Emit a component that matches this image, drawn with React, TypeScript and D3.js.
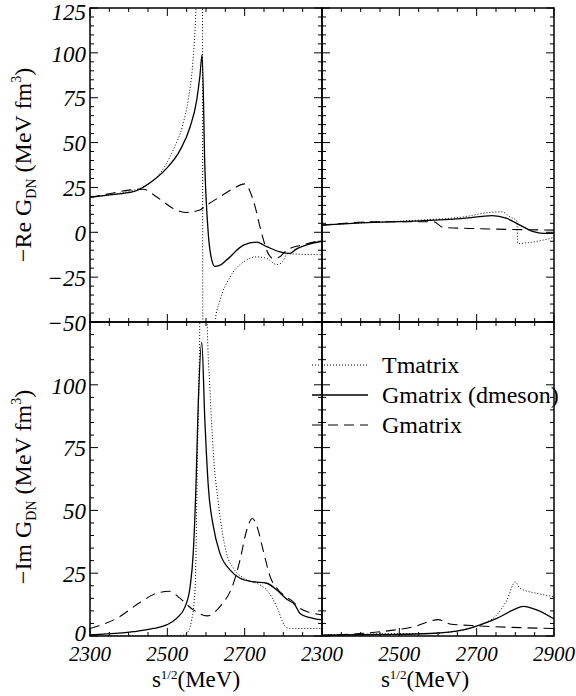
import React from 'react';
import * as d3 from 'd3';

type Pt = [number, number];

// x: s^1/2 in MeV, y: value in MeV fm^3
const xDomain: [number, number] = [2300, 2900];
const reDomain: [number, number] = [-50, 125];
const imDomain: [number, number] = [0, 125];

const reTicks = [125, 100, 75, 50, 25, 0, -25, -50];
const imTicks = [0, 25, 50, 75, 100];
const xTicksLeft = [2300, 2500, 2700];
const xTicksRight = [2300, 2500, 2700, 2900];

// top left: -Re
const reLeftT: Pt[] = [[2300, 19.5], [2350, 20.9], [2400, 22.8], [2440, 25.5], [2481, 32.8], [2515, 45.8], [2540, 60], [2554, 73.7], [2566, 95], [2574, 124], [2581, 175], [2589, 400], [2594, -400], [2606, -110], [2615, -68], [2623, -50], [2636, -38], [2662, -25], [2697, -16.5], [2731, -13.7], [2757, -14.6], [2783, -18], [2798, -16.5], [2810, -12], [2850, -12.3], [2900, -12.5]];
const reLeftGD: Pt[] = [[2300, 19.5], [2350, 20.8], [2412, 22.6], [2464, 29], [2498, 35.6], [2533, 45.8], [2559, 58.8], [2576, 73.7], [2584, 86.7], [2590, 99], [2597, 36.5], [2606, -1], [2615, -15.5], [2623, -19], [2635, -18.5], [2653, -15.5], [2697, -7.2], [2731, -5.5], [2757, -8], [2791, -10.9], [2817, -11.8], [2832, -9.5], [2860, -7], [2900, -5]];
const reLeftG: Pt[] = [[2300, 19.5], [2350, 21.5], [2400, 23.5], [2438, 24], [2472, 19.8], [2515, 13.3], [2546, 11], [2584, 12.4], [2601, 15], [2636, 19.8], [2671, 24.4], [2700, 27], [2722, 18], [2744, -0.6], [2757, -10], [2774, -14.6], [2791, -13.7], [2808, -10], [2850, -7], [2900, -4.4]];

// top right: -Re
const reRightT: Pt[] = [[2300, 4], [2400, 5.2], [2554, 6.8], [2666, 8.6], [2735, 11.1], [2765, 11.4], [2786, 8.6], [2804, 6.4], [2806, -6.2], [2900, -2.9]];
const reRightGD: Pt[] = [[2300, 4], [2400, 5.2], [2554, 6.4], [2666, 7.7], [2740, 9.3], [2778, 7.7], [2812, 4], [2847, 0.3], [2872, -0.6], [2900, -0.6]];
const reRightG: Pt[] = [[2300, 4], [2451, 5.9], [2588, 5.9], [2614, 2.7], [2709, 2], [2900, 1.2]];

// bottom left: -Im
const imLeftT: Pt[] = [[2300, 0], [2500, 0], [2540, 0.3], [2550, 1], [2563, 6.4], [2572, 19.7], [2578, 72.8], [2584, 126], [2590, 250], [2595, 280], [2600, 200], [2603, 126], [2610, 99], [2619, 72.8], [2632, 52.9], [2653, 33], [2671, 27], [2697, 23], [2731, 21], [2757, 18.3], [2783, 11.7], [2804, 4], [2817, 3], [2900, 3]];
const imLeftGD: Pt[] = [[2300, 0.4], [2412, 1.7], [2464, 3], [2498, 4.4], [2524, 7], [2546, 11.7], [2559, 19.7], [2567, 33], [2574, 59.5], [2580, 92.7], [2589, 117], [2597, 86], [2606, 59.5], [2619, 43.6], [2636, 33], [2662, 26.3], [2688, 23], [2722, 21.6], [2757, 21], [2783, 18.3], [2810, 14.5], [2830, 12.4], [2843, 9], [2869, 7.3], [2900, 6.4]];
const imLeftG: Pt[] = [[2300, 3], [2369, 7], [2429, 13.3], [2472, 17], [2505, 17.8], [2533, 15], [2567, 10.4], [2603, 8], [2636, 11.7], [2671, 21], [2688, 30.3], [2705, 42], [2720, 46.8], [2731, 44], [2748, 34], [2766, 23.6], [2787, 18.3], [2808, 15.5], [2825, 13.7], [2843, 11], [2900, 8.4]];

// bottom right: -Im
const imRightT: Pt[] = [[2300, 0.3], [2450, 0.8], [2580, 1], [2666, 2.6], [2709, 4.6], [2752, 8.4], [2778, 14.3], [2800, 21.5], [2812, 19], [2855, 17], [2900, 15.7]];
const imRightGD: Pt[] = [[2300, 0.3], [2450, 0.6], [2580, 1], [2666, 2.4], [2709, 4.4], [2752, 7], [2795, 10.4], [2821, 11.8], [2855, 10.4], [2900, 6.8]];
const imRightG: Pt[] = [[2300, 0.3], [2451, 1.7], [2537, 3.7], [2601, 6.5], [2631, 4.8], [2709, 4], [2900, 3]];

const legendLabels = ['Tmatrix', 'Gmatrix (dmeson)', 'Gmatrix'];

const styles = [
  { dash: '1,2', width: 1 },
  { dash: null, width: 1.3 },
  { dash: '10,6', width: 1.1 },
];

const SERIF = "'Liberation Serif', 'Times New Roman', serif";

const L = 90, M = 322, R = 554;
const T = 8, MY = 322, B = 636;

const Panel = ({ id, x0, x1, y0, y1, yDomain, series, xMinor, yMinor }: any) => {
  const x = d3.scaleLinear().domain(xDomain).range([x0, x1]);
  const y = d3.scaleLinear().domain(yDomain).range([y1, y0]);
  const line = d3.line<Pt>().x(d => x(d[0])).y(d => y(d[1])).curve(d3.curveMonotoneX);
  const xt = d3.range(xDomain[0], xDomain[1] + 1, xMinor);
  const yt = d3.range(yDomain[0], yDomain[1] + 0.01, yMinor);
  return (
    <g>
      <defs>
        <clipPath id={id}>
          <rect x={x0} y={y0} width={x1 - x0} height={y1 - y0} />
        </clipPath>
      </defs>
      <g clipPath={`url(#${id})`}>
        {series.map((s: Pt[], i: number) => (
          <path key={i} d={line(s) || ''} fill="none" stroke="#000"
            strokeWidth={styles[i].width} strokeDasharray={styles[i].dash || undefined} />
        ))}
      </g>
      {xt.map(v => {
        const major = (v - 2300) % 200 === 0;
        const len = major ? 8 : 4;
        return (
          <g key={'x' + v}>
            <line x1={x(v)} x2={x(v)} y1={y1} y2={y1 - len} stroke="#000" strokeWidth={1} />
            <line x1={x(v)} x2={x(v)} y1={y0} y2={y0 + len} stroke="#000" strokeWidth={1} />
          </g>
        );
      })}
      {yt.map(v => {
        const major = v % 25 === 0;
        const len = major ? 8 : 4;
        return (
          <g key={'y' + v}>
            <line x1={x0} x2={x0 + len} y1={y(v)} y2={y(v)} stroke="#000" strokeWidth={1} />
            <line x1={x1} x2={x1 - len} y1={y(v)} y2={y(v)} stroke="#000" strokeWidth={1} />
          </g>
        );
      })}
      <rect x={x0} y={y0} width={x1 - x0} height={y1 - y0} fill="none" stroke="#000" strokeWidth={1.5} />
    </g>
  );
};

const YTitle = ({ cy, part }: { cy: number; part: string }) => (
  <text transform={`translate(31,${cy}) rotate(-90)`} textAnchor="middle"
    fontFamily={SERIF} fontSize={24}>
    {`\u2212${part} G`}
    <tspan fontSize={14} dy={5}>DN</tspan>
    <tspan dy={-5}>{' (MeV fm'}</tspan>
    <tspan fontSize={14} dy={-10}>3</tspan>
    <tspan dy={10}>)</tspan>
  </text>
);

const XTitle = ({ cx }: { cx: number }) => (
  <text x={cx} y={687} textAnchor="middle" fontFamily={SERIF} fontSize={23}>
    s
    <tspan fontSize={13} dy={-8}>1/2</tspan>
    <tspan dy={8}>(MeV)</tspan>
  </text>
);

export default function App() {
  const yRe = d3.scaleLinear().domain(reDomain).range([MY, T]);
  const yIm = d3.scaleLinear().domain(imDomain).range([B, MY]);
  const xl = d3.scaleLinear().domain(xDomain).range([L, M]);
  const xr = d3.scaleLinear().domain(xDomain).range([M, R]);
  const tickFont = { fontFamily: SERIF, fontStyle: 'italic' as const };
  return (
    <svg width={576} height={696} style={{ position: 'absolute', left: 0, top: 0, background: '#fff' }}>
      <rect width={576} height={696} fill="#fff" />
      <Panel id="c1" x0={L} x1={M} y0={T} y1={MY} yDomain={reDomain} series={[reLeftT, reLeftGD, reLeftG]} xMinor={50} yMinor={5} />
      <Panel id="c2" x0={M} x1={R} y0={T} y1={MY} yDomain={reDomain} series={[reRightT, reRightGD, reRightG]} xMinor={50} yMinor={5} />
      <Panel id="c3" x0={L} x1={M} y0={MY} y1={B} yDomain={imDomain} series={[imLeftT, imLeftGD, imLeftG]} xMinor={50} yMinor={5} />
      <Panel id="c4" x0={M} x1={R} y0={MY} y1={B} yDomain={imDomain} series={[imRightT, imRightGD, imRightG]} xMinor={50} yMinor={5} />

      {reTicks.map(v => (
        <text key={'re' + v} x={86} y={yRe(v)} dy={v === 125 ? '0.5em' : '0.38em'} textAnchor="end" fontSize={23} {...tickFont}>
          {v < 0 ? `\u2212${-v}` : v}
        </text>
      ))}
      {imTicks.map(v => (
        <text key={'im' + v} x={86} y={yIm(v)} dy={v === 0 ? '0.2em' : '0.38em'} textAnchor="end" fontSize={23} {...tickFont}>{v}</text>
      ))}
      {xTicksLeft.map(v => (
        <text key={'xl' + v} x={xl(v)} y={661} textAnchor="middle" fontSize={21} {...tickFont}>{v}</text>
      ))}
      {xTicksRight.map(v => (
        <text key={'xr' + v} x={xr(v)} y={661} textAnchor="middle" fontSize={21} {...tickFont}>{v}</text>
      ))}

      <YTitle cy={165} part="Re" />
      <YTitle cy={487} part="Im" />
      <XTitle cx={196} />
      <XTitle cx={425} />

      {legendLabels.map((lab, i) => (
        <g key={lab} transform={`translate(0,${365 + i * 30})`}>
          <line x1={312} x2={368} y1={0} y2={0} stroke="#000" strokeWidth={styles[i].width}
            strokeDasharray={styles[i].dash || undefined} />
          <text x={382} y={0} dy="0.33em" fontFamily={SERIF} fontSize={24}>{lab}</text>
        </g>
      ))}
    </svg>
  );
}
